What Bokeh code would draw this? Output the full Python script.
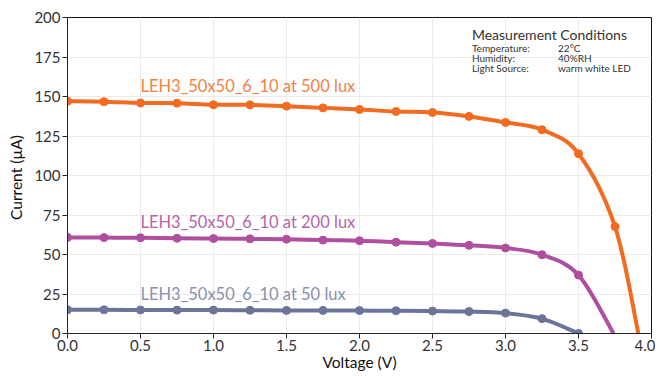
from bokeh.plotting import figure
from bokeh.models import Range1d, FixedTicker, PrintfTickFormatter, ColumnDataSource
from bokeh.core.properties import value
from bokeh.embed import file_html
from bokeh.resources import INLINE

# ---- data ----
voltage = [0.0, 0.25, 0.5, 0.75, 1.0, 1.25, 1.5, 1.75, 2.0, 2.25, 2.5, 2.75, 3.0, 3.25, 3.5, 3.75]
i_500 = [147.0, 146.7, 145.9, 145.8, 144.8, 144.7, 143.9, 142.8, 141.8, 140.5, 139.9, 137.4, 133.6, 129.0, 113.8, 67.7]
v_500_end = 3.91
i_200 = [60.8, 60.7, 60.6, 60.3, 60.1, 59.9, 59.7, 59.1, 58.7, 57.8, 57.0, 55.8, 54.1, 49.9, 37.0]
v_200_end = 3.74
i_50 = [15.0, 15.0, 14.9, 14.8, 14.8, 14.7, 14.6, 14.6, 14.5, 14.4, 14.2, 13.9, 12.9, 9.4, 0.0]
v_50_end = 3.5

series_names = ["LEH3_50x50_6_10 at 500 lux", "LEH3_50x50_6_10 at 200 lux", "LEH3_50x50_6_10 at 50 lux"]
x_ticks = [0.0, 0.5, 1.0, 1.5, 2.0, 2.5, 3.0, 3.5, 4.0]
y_ticks = [0, 25, 50, 75, 100, 125, 150, 175, 200]
cond_keys = ["Temperature:", "Humidity:", "Light Source:"]
cond_vals = ["22\u00b0C", "40%RH", "warm white LED"]

FONT = "Lato"
line_colors = ["#F26B21", "#B04F9F", "#6C7499"]
label_colors = ["#F4813F", "#B765A9", "#8A90AE"]

p = figure(width=655, height=373, output_backend="svg", toolbar_location=None,
           x_range=Range1d(0, 4), y_range=Range1d(0, 200),
           min_border_left=67, min_border_right=4, min_border_top=17, min_border_bottom=40)
p.outline_line_color = "#111111"
p.outline_line_width = 1
p.background_fill_color = "white"
p.border_fill_color = "white"

for ax in (p.xaxis[0], p.yaxis[0]):
    ax.major_label_text_font = FONT
    ax.major_label_text_font_size = "15px"
    ax.major_label_text_color = "#333333"
    ax.axis_label_text_font = FONT
    ax.axis_label_text_font_size = "15.5px"
    ax.axis_label_text_font_style = "normal"
    ax.axis_label_text_color = "#111111"
    ax.axis_line_color = "#222222"
    ax.major_tick_line_color = "#222222"
    ax.major_tick_out = 5
    ax.major_tick_in = 0
    ax.minor_tick_line_color = None
    ax.major_label_standoff = 2

p.xaxis.ticker = FixedTicker(ticks=x_ticks)
p.xaxis.formatter = PrintfTickFormatter(format="%.1f")
p.yaxis.ticker = FixedTicker(ticks=y_ticks)
p.xaxis.axis_label = "Voltage (V)"
p.xaxis.major_label_standoff = 1
p.xaxis.axis_label_text_font_size = "15.5px"
p.xaxis.axis_label_standoff = -1
p.yaxis.axis_label = "Current  (\u00b5A)"
p.yaxis.axis_label_standoff = 6

p.xgrid.grid_line_color = "#EBEBEB"
p.ygrid.grid_line_color = "#EBEBEB"


def smooth(p, xs, ys, color):
    n = len(xs)
    x0, y0, x1, y1, cx0, cy0, cx1, cy1 = [], [], [], [], [], [], [], []
    for i in range(n - 1):
        xa, ya = xs[max(i - 1, 0)], ys[max(i - 1, 0)]
        xb, yb = xs[i], ys[i]
        xc, yc = xs[i + 1], ys[i + 1]
        xd, yd = xs[min(i + 2, n - 1)], ys[min(i + 2, n - 1)]
        x0.append(xb); y0.append(yb); x1.append(xc); y1.append(yc)
        cx0.append(xb + (xc - xa) / 6.0); cy0.append(yb + (yc - ya) / 6.0)
        cx1.append(xc - (xd - xb) / 6.0); cy1.append(yc - (yd - yb) / 6.0)
    src = ColumnDataSource(dict(x0=x0, y0=y0, x1=x1, y1=y1, cx0=cx0, cy0=cy0, cx1=cx1, cy1=cy1))
    p.bezier(x0="x0", y0="y0", x1="x1", y1="y1", cx0="cx0", cy0="cy0", cx1="cx1", cy1="cy1",
             source=src, line_color=color, line_width=4)


curves = [
    (voltage + [v_500_end], i_500 + [0.0], voltage, i_500),
    (voltage[:15] + [v_200_end], i_200 + [0.0], voltage[:15], i_200),
    (voltage[:15], i_50, voltage[:15], i_50),
]
label_pos = [(0.5, 156.5), (0.5, 70.8), (0.5, 25.3)]

for (lx, ly, mx, my), lc, tc, name, (tx, ty) in zip(curves, line_colors, label_colors, series_names, label_pos):
    smooth(p, lx, ly, lc)
    p.scatter(mx, my, size=8, color=lc)
    p.text(x=[tx], y=[ty], text=[name], text_color=tc, text_font=value(FONT),
           text_font_size="16.5px", text_baseline="middle", text_align="left")

# measurement conditions
p.text(x=[2.77], y=[189.3], text=["Measurement Conditions"], text_color="#333333",
       text_font=value(FONT), text_font_size="14px", text_baseline="middle")
row_y = [181.0, 174.6, 167.8]
p.text(x=[2.77] * 3, y=row_y, text=cond_keys, text_color="#333333",
       text_font=value(FONT), text_font_size="10px", text_baseline="middle")
p.text(x=[3.36] * 3, y=row_y, text=cond_vals, text_color="#333333",
       text_font=value(FONT), text_font_size="10px", text_baseline="middle")

open("out.html", "w").write(file_html(p, INLINE))
